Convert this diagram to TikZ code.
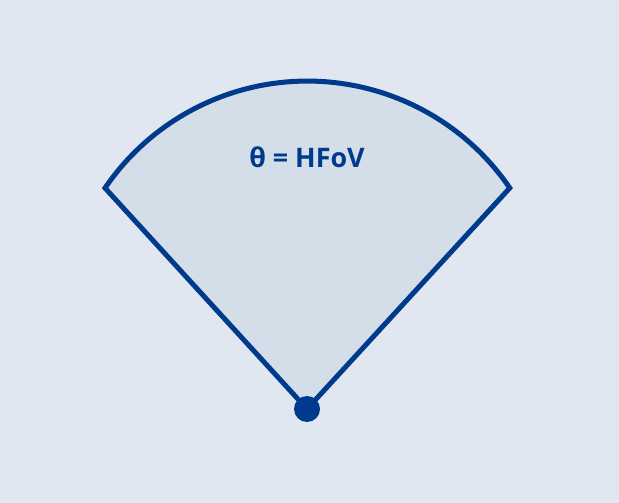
\documentclass[tikz,border=0pt]{standalone}
\usepackage{fontspec}
\setmainfont{Open Sans}
\usepackage{xcolor}
\usepackage{tikz}
\definecolor{bgblue}{RGB}{224,231,240}
\definecolor{fovfill}{RGB}{211,222,232}
\definecolor{fovblue}{RGB}{0,58,140}

\begin{document}
\begin{tikzpicture}[x=1bp,y=-1bp]
\fill[bgblue] (0,0) rectangle (619,503);
\useasboundingbox (0,0) rectangle (619,503);
\coordinate (tip) at (307,409);
\coordinate (left) at (105,188);
\coordinate (right) at (510,188);
\begin{scope}
\clip (0,79) rectangle (619,503);
\draw[fovblue,fill=fovfill,line width=5bp] (tip) -- (left) arc[start angle=214.3,end angle=325.7,radius=245] -- cycle;
\end{scope}
\node[circle,fill=fovblue,inner sep=0pt,minimum size=26bp] (apex) at (tip) {};
\node[text=fovblue,font=\bfseries\fontsize{27}{30}\selectfont] (label) at (307,157) {θ = HFoV};
\end{tikzpicture}
\end{document}
